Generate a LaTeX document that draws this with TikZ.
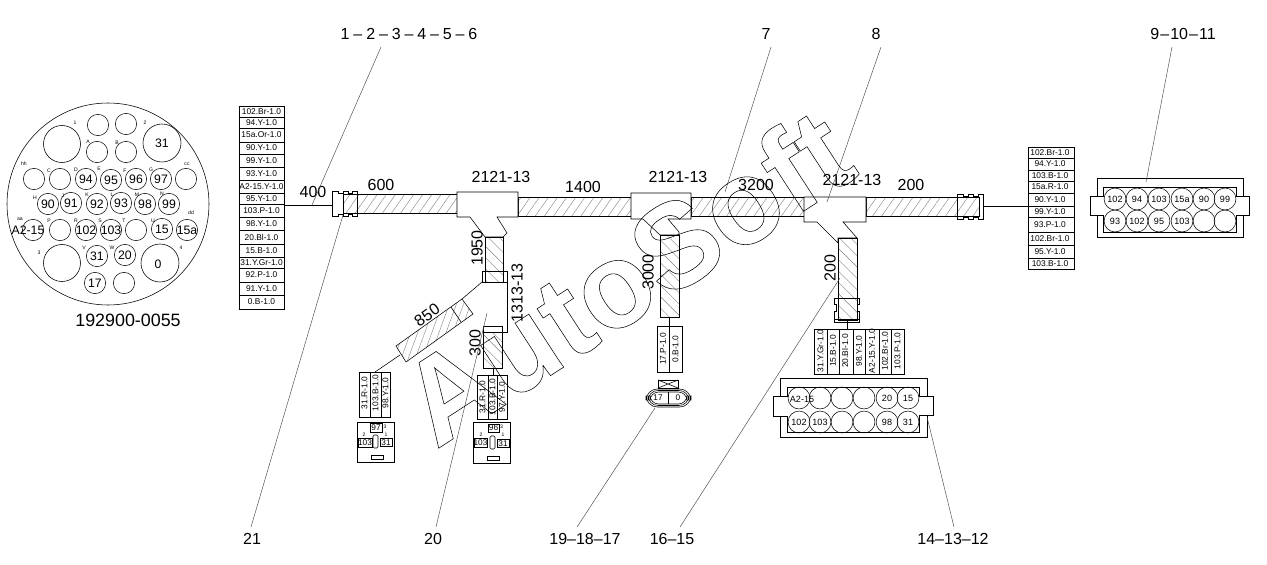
\documentclass[tikz,border=0pt]{standalone}
\usepackage{fontspec}
\setmainfont{Liberation Sans}
\usetikzlibrary{patterns.meta}
\tikzset{
    wire/.style={line width=0.42pt},
    leader/.style={line width=0.35pt,black!70},
    bigtag/.style={font=\fontsize{12}{12}\selectfont,inner sep=0pt},
    smalltag/.style={font=\fontsize{6.3}{6.3}\selectfont,inner sep=0pt},
    tinytag/.style={font=\fontsize{3.8}{4}\selectfont,inner sep=0pt},
    pintag/.style={font=\fontsize{6.8}{7}\selectfont,inner sep=0pt},
    relaytag/.style={font=\fontsize{6.2}{6}\selectfont,inner sep=0pt},
    roundtag/.style={font=\fontsize{9.2}{9}\selectfont,inner sep=0pt},
    pinhole/.style={circle,draw,line width=0.4pt,minimum size=16pt,inner sep=0pt},
    plughole/.style={pinhole,minimum size=16.4pt},
    hatchright/.style={pattern={Lines[angle=55,distance=5.6pt,line width=0.3pt]},pattern color=black!50},
    hatchleft/.style={pattern={Lines[angle=-45,distance=6pt,line width=0.3pt]},pattern color=black!50},
    hatchsteep/.style={pattern={Lines[angle=70,distance=5pt,line width=0.3pt]},pattern color=black!50}
}
\newcommand{\widedash}{\kern2.9pt--\kern2.9pt}
\newcommand{\nearrowdash}{\kern0.8pt--\kern0.8pt}
\begin{document}
\begin{tikzpicture}[x=0.75pt,y=-0.75pt,wire]
    \useasboundingbox (0,0) rectangle (1267,564);
    % round connector
    \draw (108,204) circle (101);
    \foreach \px/\py/\rad in {62/144/18.5,162/143/19,62/263/18.5,160/263/19}{
        \draw (\px,\py) circle (\rad);
    }
    \foreach \px/\py/\txt [count=\i] in {98/125/,126/124/,97/152/,126/152/,
            34/179/,60/179/,86/179/94,111/180/95,136/179/96,161/179/97,186/179/,
            48/204/90,71/203/91,97/204/92,121/203/93,145/204/98,169/204/99,
            33/230/,60/230/,86/230/102,111/230/103,136/230/,162/229/15,187/230/15a,
            97/256/31,125/255/20,95/283/17,124/283/}{
        \node[pinhole] (rp\i) at (\px,\py) {};
        \node[roundtag] (rt\i) at (\px,\py) {\txt};
    }
    \node[roundtag] (rtwide) at (28,230) {A2-15};
    \node[roundtag] (big31) at (162,143) {31};
    \node[roundtag] (big0) at (158,264) {0};
    \foreach \px/\py/\txt [count=\i] in {75/123/1,145/123/2,88/142/A,117/143/B,24/164/hh,49/171/C,76/170/D,99/169/E,
            125/171/F,151/170/G,187/164/cc,35/198/H,63/196/J,87/195/K,112/195/L,137/195/M,162/194/N,
            20/219/aa,49/221/P,76/221/R,100/221/S,124/221/T,153/221/U,191/213/dd,39/253/3,84/248/V,112/248/W,181/248/4}{
        \node[tinytag] (rs\i) at (\px,\py) {\txt};
    }
    \node[bigtag,font=\fontsize{13.4}{13}\selectfont] (partno) at (128,320) {192900-0055};
    % left table
    \foreach \ya/\yb/\txt [count=\i] in {106/117/102.Br-1.0,117/128/94.Y-1.0,128/142/15a.Or-1.0,142/154/90.Y-1.0,
            154/167/99.Y-1.0,167/180/93.Y-1.0,180/193/A2-15.Y-1.0,193/204/95.Y-1.0,204/217/103.P-1.0,
            217/230/98.Y-1.0,230/244/20.Bl-1.0,244/257/15.B-1.0,257/268/31.Y.Gr-1.0,268/282/92.P-1.0,
            282/295/91.Y-1.0,295/309/0.B-1.0}{
        \draw (239,\ya) rectangle (284,\yb);
        \node[smalltag] (lt\i) at (261.5,{(\ya+\yb)/2}) {\txt};
    }
    % right table
    \foreach \ya/\yb/\txt [count=\i] in {147/158/102.Br-1.0,158/170/94.Y-1.0,170/181/103.B-1.0,181/193/15a.R-1.0,
            193/206/90.Y-1.0,206/217/99.Y-1.0,217/232/93.P-1.0,232/245/102.Br-1.0,245/258/95.Y-1.0,258/269/103.B-1.0}{
        \draw (1028,\ya) rectangle (1074,\yb);
        \node[smalltag] (rg\i) at (1050,{(\ya+\yb)/2}) {\txt};
    }
    % main cable
    \draw[hatchright] (343,194) rectangle (457,213);
    \draw[hatchright] (518,197) rectangle (631,216);
    \draw[hatchright] (691,197) rectangle (804,216);
    \draw[hatchright] (866,197) rectangle (979,216);
    \coordinate (tablewire) at (284,205);
    \coordinate (leftend) at (332,205);
    \coordinate (rightend) at (983,206);
    \coordinate (tablewireb) at (1028,206);
    \draw (tablewire) -- (leftend);
    \draw (rightend) -- (tablewireb);
    \draw (332,191) -- (338,191) -- (338,193) -- (343,193) -- (343,191) -- (348,191) -- (348,193) -- (352,193) -- (352,191) -- (357,191)
        -- (357,216) -- (352,216) -- (352,214) -- (348,214) -- (348,216) -- (343,216) -- (343,214) -- (338,214) -- (338,216) -- (332,216) -- cycle;
    \draw (343,191) -- (343,216);
    \draw (957,194) -- (963,194) -- (963,196) -- (968,196) -- (968,194) -- (973,194) -- (973,196) -- (978,196) -- (978,194) -- (983,194)
        -- (983,219) -- (978,219) -- (978,217) -- (973,217) -- (973,219) -- (968,219) -- (968,217) -- (963,217) -- (963,219) -- (957,219) -- cycle;
    % first junction and its branch
    \draw[hatchleft] (485,237) rectangle (503,282);
    \draw[fill=white] (457,192) -- (518,192) -- (518,217) -- (497,217) -- (507,233) -- (503,237) -- (485,237) -- (470,217) -- (457,217) -- cycle;
    \draw (485,237) rectangle (503,282);
    \draw (482,271) rectangle (507,282);
    \draw (507,271) -- (507,332) -- (483,332);
    \draw[hatchleft] (483,332) rectangle (502,368);
    \draw (483,326) rectangle (502,332);
    \draw[hatchsteep] (396,346) -- (406,362) -- (473,314) -- (462,299) -- cycle;
    \draw (451,307) -- (461,322);
    \coordinate (bandtop) at (462,299);
    \coordinate (bandlow) at (400,355);
    \draw (482,282) -- (bandtop);
    \draw (bandlow) -- (375,372);
    \draw (493,368) -- (493,375);
    % tables and relays of the first branch
    \foreach \colx/\txt [count=\i] in {364.5/31.R-1.0,375.5/103.B-1.0,385.5/98.Y-1.0}{
        \node[smalltag,rotate=90] (ta\i) at (\colx,393) {\txt};
    }
    \draw (359,372) rectangle (390,417);
    \draw (370,372) -- (370,417) (381,372) -- (381,417);
    \foreach \colx/\txt [count=\i] in {482.5/31.R-1.0,492.5/103.B-1.0,502/97.Y-1.0}{
        \node[smalltag,rotate=90] (tb\i) at (\colx,397) {\txt};
    }
    \draw (477,375) rectangle (507,419);
    \draw (488,375) -- (488,419) (497,375) -- (497,419);
    \draw (357,422) rectangle (394,462);
    \draw (370,423) rectangle (382,432);
    \draw (358,438) rectangle (372,447);
    \draw (380,438) rectangle (392,446);
    \draw[rounded corners=1] (373,435) rectangle (378,448);
    \draw (371,455) rectangle (383,459);
    \node[relaytag] (relaya) at (376,428) {97};
    \node[relaytag] (relayb) at (365,443) {103};
    \node[relaytag] (relayc) at (386,442.5) {31};
    \node[tinytag] (pina) at (385,427) {3};
    \node[tinytag] (pinb) at (364,435) {2};
    \node[tinytag] (pinc) at (386,435) {1};
    \draw (473,422) rectangle (510,463);
    \draw (488,424) rectangle (499,432);
    \draw (474,438) rectangle (487,447);
    \draw (497,439) rectangle (509,447);
    \draw[rounded corners=1] (490,436) rectangle (495,449);
    \draw (487,456) rectangle (499,460);
    \node[relaytag] (relayd) at (493.5,428) {96};
    \node[relaytag] (relaye) at (480.5,443) {103};
    \node[relaytag] (relayf) at (503,443.5) {31};
    \node[tinytag] (pind) at (501.5,427) {3};
    \node[tinytag] (pine) at (481,435) {2};
    \node[tinytag] (pinf) at (503,435) {1};
    % second junction
    \draw[hatchleft] (660,235) rectangle (679,317);
    \draw[fill=white] (631,193) -- (691,193) -- (691,219) -- (668,219) -- (679,232) -- (679,235) -- (660,235) -- (643,219) -- (631,219) -- cycle;
    \draw (660,235) rectangle (679,317);
    \draw (669,317) -- (669,326);
    \draw (657,326) rectangle (682,372);
    \draw (669,326) -- (669,372);
    \node[smalltag,rotate=90] (tc1) at (663,349) {17.P-1.0};
    \node[smalltag,rotate=90] (tc2) at (675.5,349) {0.B-1.0};
    \draw (658,380) rectangle (678,388);
    \draw (658,380) -- (678,388) (658,388) -- (678,380);
    \draw[rounded corners=8.5] (646,389) rectangle (691,407);
    \draw[rounded corners=7.5] (648,390.5) rectangle (689,405.5);
    \draw[rounded corners=6.5] (650,392) rectangle (687,404);
    \draw (668,392) -- (668,404);
    \node[relaytag] (ovala) at (658,397.5) {17};
    \node[relaytag] (ovalb) at (678,398) {0};
    % third junction
    \draw[hatchleft] (838,238) rectangle (857,320);
    \draw[fill=white] (804,197) -- (866,197) -- (866,222) -- (843,222) -- (857,238) -- (838,238) -- (838,243) -- (817,222) -- (804,222) -- cycle;
    \draw (838,238) rectangle (857,320);
    \draw (834,298) -- (859,298) -- (859,304) -- (857,304) -- (857,311) -- (859,311) -- (859,322) -- (834,322) -- (834,311) -- (836,311) -- (836,304) -- (834,304) -- cycle;
    \draw (834,319) -- (859,319);
    \draw (847,320) -- (847,329);
    \draw (814,329) rectangle (904,374);
    \foreach \colx in {827,839,853,865,879,891}{
        \draw (\colx,329) -- (\colx,374);
    }
    \foreach \colx/\txt [count=\i] in {820.5/31.Y.Gr-1.0,833/15.B-1.0,845/20.Bl-1.0,859/98.Y-1.0,872/A2-15.Y-1.0,885/102.Br-1.0,897.5/103.P-1.0}{
        \node[smalltag,rotate=90] (td\i) at (\colx,351) {\txt};
    }
    % lower plug
    \draw (780,378) -- (927,378) -- (927,396) -- (933,396) -- (933,415) -- (927,415) -- (927,437) -- (780,437) -- (780,416) -- (773,416) -- (773,396) -- (780,396) -- cycle;
    \draw (787,387) -- (919,387) -- (919,396) -- (927,396) (927,415) -- (919,415) -- (919,432) -- (787,432) -- (787,416) -- (780,416) (780,396) -- (787,396) -- (787,387);
    \foreach \px/\py/\txt [count=\i] in {799/398/,820/398/,842/398/,864/398/,887/398/20,908/398/15,
            799/422/102,820/422/103,842/422/,864/422/,887/422/98,908/422/31}{
        \node[plughole] (lp\i) at (\px,\py) {};
        \node[pintag] (lq\i) at (\px,\py) {\txt};
    }
    \node[pintag] (lq0) at (802,399) {A2-15};
    % upper right plug
    \draw (1097,178) -- (1243,178) -- (1243,196) -- (1249,196) -- (1249,215) -- (1243,215) -- (1243,237) -- (1097,237) -- (1097,215) -- (1090,215) -- (1090,196) -- (1097,196) -- cycle;
    \draw (1103,187) -- (1236,187) -- (1236,196) -- (1243,196) (1243,215) -- (1236,215) -- (1236,232) -- (1103,232) -- (1103,215) -- (1097,215) (1097,196) -- (1103,196) -- (1103,187);
    \foreach \px/\py/\txt [count=\i] in {1115/199/102,1137/199/94,1159/199/103,1182/199/15a,1204/199/90,1225/199/99,
            1115/221/93,1137/221/102,1159/221/95,1182/221/103,1204/221/,1225/221/}{
        \node[plughole] (up\i) at (\px,\py) {};
        \node[pintag] (uq\i) at (\px,\py) {\txt};
    }
    % sizes
    \node[bigtag] (len400) at (313,192) {400};
    \node[bigtag] (len600) at (381,185) {600};
    \node[bigtag] (typea) at (501,177) {2121-13};
    \node[bigtag] (len1400) at (583,187) {1400};
    \node[bigtag] (typeb) at (678,177) {2121-13};
    \node[bigtag] (len3200) at (756,185) {3200};
    \node[bigtag] (typec) at (852,180) {2121-13};
    \node[bigtag] (len200) at (911,185) {200};
    \node[bigtag,rotate=90] (len1950) at (477,248) {1950};
    \node[bigtag,rotate=90] (typed) at (517,293) {1313-13};
    \node[bigtag,rotate=90] (len300) at (475,343) {300};
    \node[bigtag,rotate=35] (len850) at (427,315) {850};
    \node[bigtag,rotate=90] (len3000) at (648,272) {3000};
    \node[bigtag,rotate=90] (lenb200) at (830,268) {200};
    % callouts
    \node[bigtag] (call1) at (409,34) {1\widedash 2\widedash 3\widedash 4\widedash 5\widedash 6};
    \node[bigtag] (call7) at (766,34) {7};
    \node[bigtag] (call8) at (876,34) {8};
    \node[bigtag] (call9) at (1183,34) {9\nearrowdash 10\nearrowdash 11};
    \node[bigtag] (call21) at (252,539) {21};
    \node[bigtag] (call20) at (433,539) {20};
    \node[bigtag] (call19) at (585,539) {19--18--17};
    \node[bigtag] (call16) at (672,539) {16--15};
    \node[bigtag] (call14) at (953,539) {14--13--12};
    \coordinate (aim1) at (312,205);
    \coordinate (aim7) at (725,192);
    \coordinate (aim8) at (827,202);
    \coordinate (aim9) at (1146,182);
    \coordinate (aim21) at (343,215);
    \coordinate (aim20) at (487,313);
    \coordinate (aim19) at (655,408);
    \coordinate (aim16) at (840,278);
    \coordinate (aim14) at (927,417);
    \coordinate (foot21) at (251,527);
    \coordinate (foot20) at (436,527);
    \coordinate (foot19) at (577,527);
    \coordinate (foot16) at (680,527);
    \coordinate (foot14) at (954,527);
    \coordinate (head1) at (381,47);
    \coordinate (head7) at (771,47);
    \coordinate (head8) at (881,47);
    \coordinate (head9) at (1172,47);
    \draw[leader] (head1) -- (aim1);
    \draw[leader] (head7) -- (aim7);
    \draw[leader] (head8) -- (aim8);
    \draw[leader] (head9) -- (aim9);
    \draw[leader] (foot21) -- (aim21);
    \draw[leader] (foot20) -- (aim20);
    \draw[leader] (foot19) -- (aim19);
    \draw[leader] (foot16) -- (aim16);
    \draw[leader] (foot14) -- (aim14);
    % watermark
    \node[anchor=base west,rotate=33,inner sep=0pt,font=\bfseries\fontsize{90}{90}\selectfont] (stamp) at (436,450)
        {\special{pdf:code q 1 Tr 0.4 w}AutoSoft\special{pdf:code Q}};
\end{tikzpicture}
\end{document}
